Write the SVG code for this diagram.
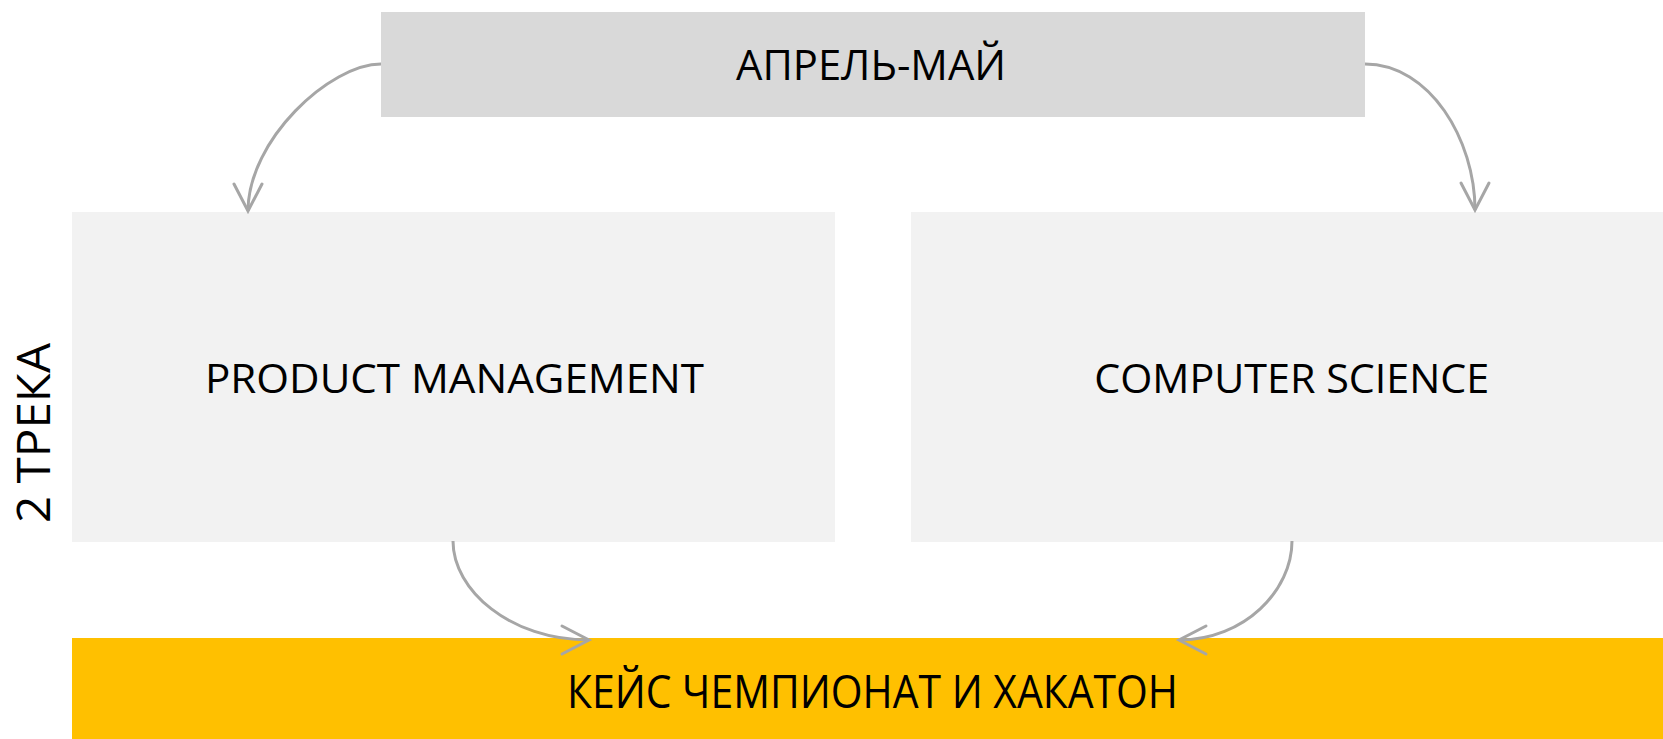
<svg xmlns="http://www.w3.org/2000/svg" width="1663" height="739" viewBox="0 0 1663 739">
  <style>
    .lbl { font-family: "Open Sans", "Noto Sans", "DejaVu Sans", sans-serif; fill: #000000; text-anchor: middle; }
    .conn { fill: none; stroke: #A6A6A6; stroke-width: 3; marker-end: url(#ah); }
  </style>
  <defs>
    <marker id="ah" markerUnits="userSpaceOnUse" markerWidth="40" markerHeight="40" viewBox="-32 -20 40 40" refX="0" refY="0" orient="auto" overflow="visible">
      <path d="M-27,-14 L0,0 L-27,14" fill="none" stroke="#A6A6A6" stroke-width="3" stroke-linecap="round" stroke-linejoin="miter"/>
    </marker>
  </defs>
  <rect width="1663" height="739" fill="#FFFFFF"/>
  <g id="node-april-may">
    <rect x="381" y="12" width="984" height="105" fill="#D9D9D9"/>
    <text class="lbl" x="871" y="80" font-size="42" textLength="270" lengthAdjust="spacingAndGlyphs">АПРЕЛЬ-МАЙ</text>
  </g>
  <g id="node-product-management">
    <rect x="72" y="212" width="763" height="330" fill="#F2F2F2"/>
    <text class="lbl" x="454.5" y="393" font-size="41" textLength="499" lengthAdjust="spacingAndGlyphs">PRODUCT MANAGEMENT</text>
  </g>
  <g id="node-computer-science">
    <rect x="911" y="212" width="752" height="330" fill="#F2F2F2"/>
    <text class="lbl" x="1291.7" y="393" font-size="41" textLength="395" lengthAdjust="spacingAndGlyphs">COMPUTER SCIENCE</text>
  </g>
  <g id="node-hackathon">
    <rect x="72" y="638" width="1591" height="101" fill="#FFC000"/>
    <text class="lbl" x="872.5" y="708" font-size="46" textLength="611" lengthAdjust="spacingAndGlyphs">КЕЙС ЧЕМПИОНАТ И ХАКАТОН</text>
  </g>
  <g id="label-tracks">
    <text class="lbl" transform="translate(50,433) rotate(-90)" x="0" y="0" font-size="45" textLength="180" lengthAdjust="spacingAndGlyphs">2 ТРЕКА</text>
  </g>
  <g id="connectors">
    <path class="conn" d="M381,64 C330,64 248,140 248,211"/>
    <path class="conn" d="M1365,64 C1430,64 1475,140 1475,210"/>
    <path class="conn" d="M453,541 C453,590 510,640 589,640"/>
    <path class="conn" d="M1292,541 C1292,590 1245,640 1179,640"/>
  </g>
</svg>
